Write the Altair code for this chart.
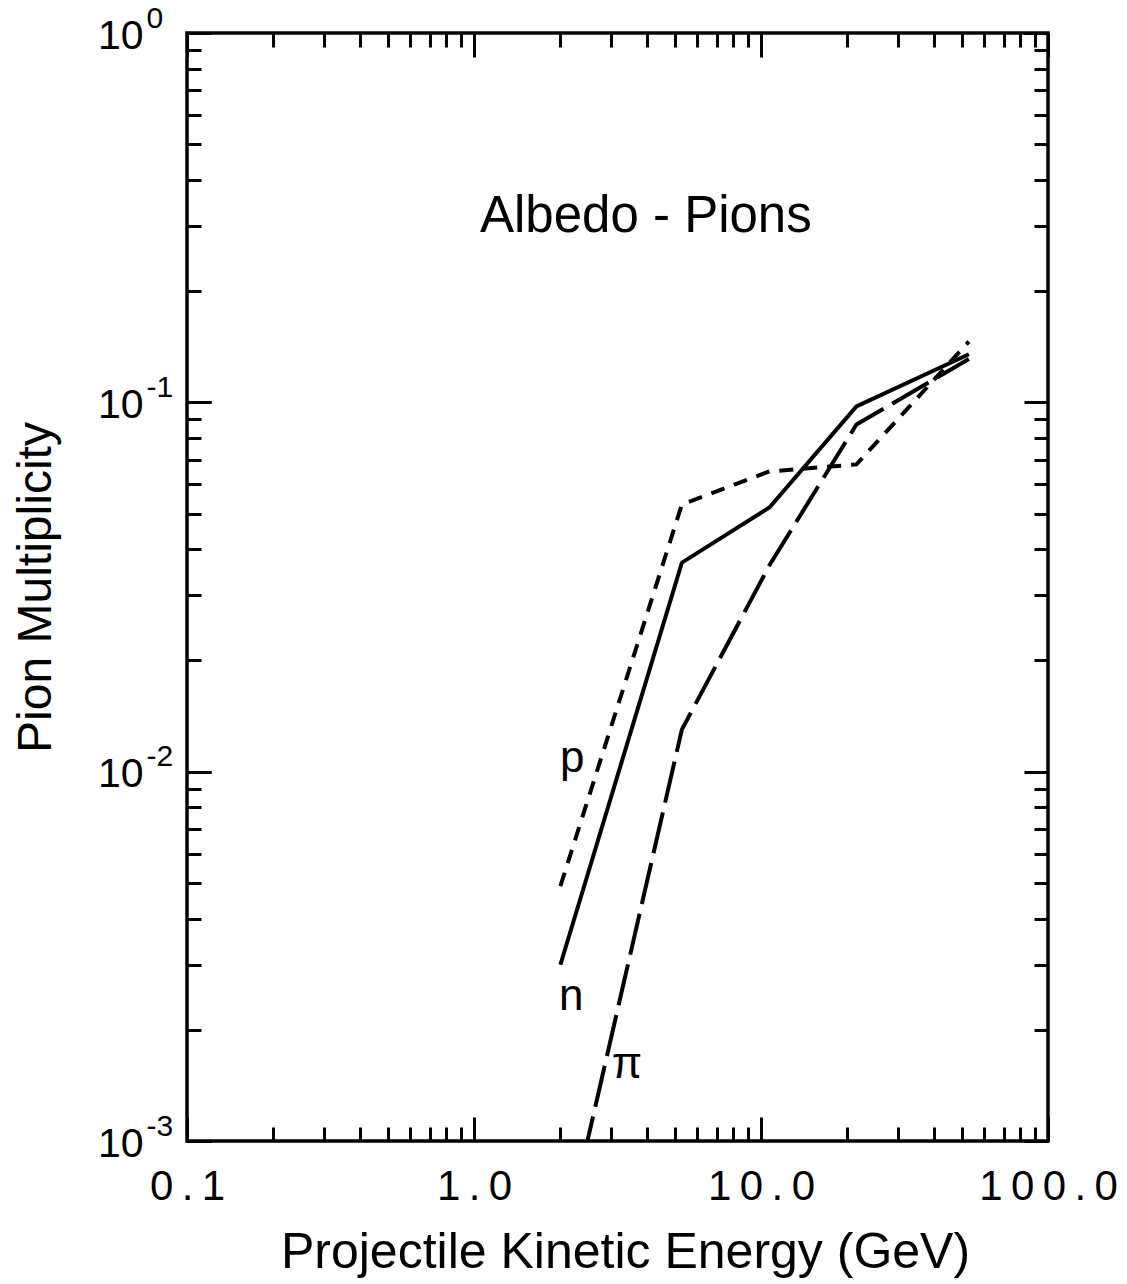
import altair as alt
import pandas as pd

# ---------------- data ----------------
energy = [2.0, 5.3, 10.7, 21.5, 53.0]          # GeV
mult_n = [0.0030, 0.0368, 0.0519, 0.0975, 0.135]
mult_p = [0.0049, 0.0529, 0.0650, 0.0679, 0.146]
mult_pi = [0.00048, 0.0130, 0.0362, 0.0871, 0.131]

x_major = [0.1, 1, 10, 100]
x_minor = [0.2, 0.3, 0.4, 0.5, 0.6, 0.7, 0.8, 0.9,
           2, 3, 4, 5, 6, 7, 8, 9,
           20, 30, 40, 50, 60, 70, 80, 90]
y_major = [0.001, 0.01, 0.1, 1]
y_minor = [0.002, 0.003, 0.004, 0.005, 0.006, 0.007, 0.008, 0.009,
           0.02, 0.03, 0.04, 0.05, 0.06, 0.07, 0.08, 0.09,
           0.2, 0.3, 0.4, 0.5, 0.6, 0.7, 0.8, 0.9]

curve_labels = ["p", "n", "\u03c0"]
curve_label_energy = [2.2, 2.18, 3.41]
curve_label_mult = [0.0100, 0.00226, 0.00148]

panel_title = ["Albedo - Pions"]
panel_title_energy = [3.97]
panel_title_mult = [0.29]

# ---------------- layout ----------------
W, H = 861, 1108
FONT = "Liberation Sans"
xs = alt.Scale(type="log", domain=[0.1, 100], nice=False)
ys = alt.Scale(type="log", domain=[0.001, 1], nice=False)

TS = "\u2009"
def spaced(s):
    return TS.join(list(s))

x_label_expr = (
    f"datum.value < 0.5 ? '{spaced('0.1')}' : "
    f"datum.value < 5 ? '{spaced('1.0')}' : "
    f"datum.value < 50 ? '{spaced('10.0')}' : '{spaced('100.0')}'"
)
y_base_expr = "'10'"
y_exp_expr = (
    "datum.value < 0.005 ? '-3' : "
    "datum.value < 0.05 ? '-2' : "
    "datum.value < 0.5 ? '-1' : '0'"
)

def df_for(mult):
    return pd.DataFrame({"E": energy, "M": mult})

df_n = df_for(mult_n)
df_p = df_for(mult_p)
df_pi = df_for(mult_pi)

tick_common = dict(domain=False, grid=False, ticks=True, tickColor="black",
                   tickWidth=3)

bottom_major = alt.Axis(
    orient="bottom", values=x_major, tickSize=24, offset=-24,
    labelExpr=x_label_expr, labelFont=FONT, labelFontSize=42,
    labelColor="black", labelPadding=25, labelFlush=False, labelOverlap=False,
    title="Projectile Kinetic Energy (GeV)", titleFont=FONT,
    titleFontSize=50, titleFontWeight="normal", titleColor="black",
    titleX=438, titleY=150, titleAlign="center", titleBaseline="alphabetic",
    **tick_common)
left_major = alt.Axis(
    orient="left", values=y_major, tickSize=24, offset=-24,
    labelExpr=y_base_expr, labelFont=FONT, labelFontSize=41,
    labelColor="black", labelPadding=44, labelOffset=3, labelFlush=False,
    labelOverlap=False,
    title="Pion Multiplicity", titleFont=FONT, titleFontSize=48,
    titleFontWeight="normal", titleColor="black", titleAngle=270,
    titleX=-161, titleY=554, titleAlign="center", titleBaseline="alphabetic",
    **tick_common)
left_exponent = alt.Axis(
    orient="left", values=y_major, tickSize=24, offset=-24,
    labelExpr=y_exp_expr, labelFont=FONT, labelFontSize=30,
    labelColor="black", labelPadding=41, labelOffset=-15, labelAlign="left",
    labelFlush=False, labelOverlap=False, title="",
    **tick_common)

def plain_axis(orient, values, size):
    return alt.Axis(orient=orient, values=values, tickSize=size, offset=-size,
                    labels=False, title="", **tick_common)

def axis_layer(xaxis, yaxis):
    return alt.Chart(df_n).mark_point(opacity=0).encode(
        x=alt.X("E:Q", scale=xs, axis=xaxis),
        y=alt.Y("M:Q", scale=ys, axis=yaxis),
    )

ax1 = axis_layer(bottom_major, left_major)
ax2 = axis_layer(plain_axis("bottom", x_minor, 14), plain_axis("left", y_minor, 14))
ax3 = axis_layer(plain_axis("top", x_major, 24), plain_axis("right", y_major, 24))
ax4 = axis_layer(plain_axis("top", x_minor, 14), plain_axis("right", y_minor, 14))
ax5 = axis_layer(None, left_exponent)

def line(df, **kw):
    return alt.Chart(df).mark_line(color="black", strokeWidth=4, clip=True,
                                   strokeCap="butt", **kw).encode(
        x=alt.X("E:Q", scale=xs, axis=None),
        y=alt.Y("M:Q", scale=ys, axis=None),
    )

line_n = line(df_n)
line_p = line(df_p, strokeDash=[14, 10])
line_pi = line(df_pi, strokeDash=[42, 10])

lab_df = pd.DataFrame({"t": curve_labels, "E": curve_label_energy, "M": curve_label_mult})
labels = alt.Chart(lab_df).mark_text(
    font=FONT, fontSize=44, color="black", align="center",
    baseline="alphabetic").encode(
    x=alt.X("E:Q", scale=xs, axis=None),
    y=alt.Y("M:Q", scale=ys, axis=None),
    text="t:N",
)

title_df = pd.DataFrame({"t": panel_title, "E": panel_title_energy, "M": panel_title_mult})
title_txt = alt.Chart(title_df).mark_text(
    font=FONT, fontSize=51, color="black", align="center",
    baseline="alphabetic").encode(
    x=alt.X("E:Q", scale=xs, axis=None),
    y=alt.Y("M:Q", scale=ys, axis=None),
    text="t:N",
)

chart = alt.layer(
    ax1, ax2, ax3, ax4, ax5, line_pi, line_p, line_n, labels, title_txt
).resolve_axis(
    x="independent", y="independent"
).properties(
    width=W, height=H,
    autosize=alt.AutoSizeParams(type="none"),
    padding={"left": 187, "top": 33, "right": 79, "bottom": 143},
    background="white",
).configure_view(
    stroke="black", strokeWidth=3.5
)

chart.save("out.html", embed_options={"renderer": "svg", "actions": False})
